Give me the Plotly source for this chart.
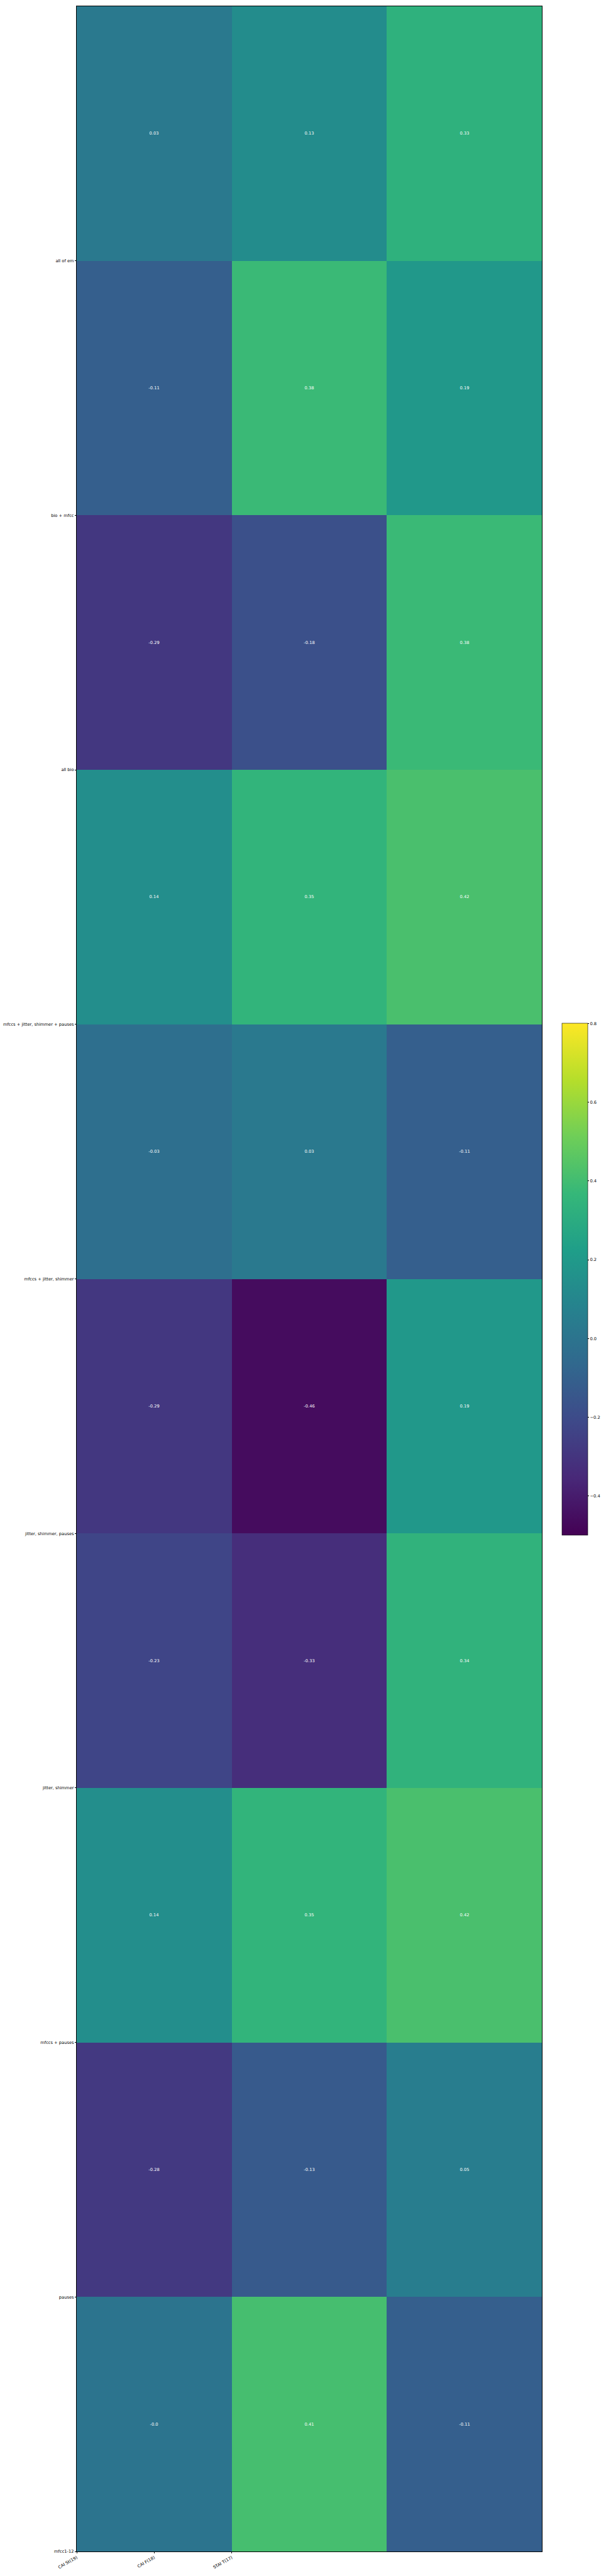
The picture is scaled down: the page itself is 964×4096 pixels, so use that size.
import plotly.graph_objects as go

# ---- data ----
col_labels = ["CAI St(19)", "CAI F(18)", "STAI T(17)"]
row_labels = [
    "all of em",
    "bio + mfcc",
    "all bio",
    "mfccs + jitter, shimmer + pauses",
    "mfccs + jitter, shimmer",
    "jitter, shimmer, pauses",
    "jitter, shimmer",
    "mfccs + pauses",
    "pauses",
    "mfcc1-12",
]
row0 = [0.03, 0.13, 0.33]
row1 = [-0.11, 0.38, 0.19]
row2 = [-0.29, -0.18, 0.38]
row3 = [0.14, 0.35, 0.42]
row4 = [-0.03, 0.03, -0.11]
row5 = [-0.29, -0.46, 0.19]
row6 = [-0.23, -0.33, 0.34]
row7 = [0.14, 0.35, 0.42]
row8 = [-0.28, -0.13, 0.05]
row9 = [-0.0, 0.41, -0.11]
values = [row0, row1, row2, row3, row4, row5, row6, row7, row8, row9]
cbar_ticks = [-0.4, -0.2, 0.0, 0.2, 0.4, 0.6, 0.8]
cbar_ticktext = ["\u22120.4", "\u22120.2", "0.0", "0.2", "0.4", "0.6", "0.8"]
zmin, zmax = -0.5, 0.8

S = 0.669
W, H = 964, 4096
left, right = 183 * S, 1288 * S
top, bottom = 15 * S, 6065 * S
plot_h = bottom - top
plot_w = right - left

texts = [[str(v) for v in r] for r in values]
FONT = "DejaVu Sans"
fs = 10 * S

cb_top = 2433 * S
cb_bot = 3649 * S
cb_left = 1336 * S
cb_w = 62 * S

fig = go.Figure(
    go.Heatmap(
        z=values,
        x=list(range(len(col_labels))),
        y=list(range(len(row_labels))),
        text=texts,
        texttemplate="%{text}",
        textfont=dict(family=FONT, size=fs, color="white"),
        colorscale="Viridis",
        zmin=zmin,
        zmax=zmax,
        xgap=0,
        ygap=0,
        colorbar=dict(
            x=(cb_left - left) / plot_w,
            xanchor="left",
            xpad=0,
            y=(bottom - cb_top) / plot_h,
            yanchor="top",
            ypad=0,
            lenmode="pixels",
            len=cb_bot - cb_top,
            thicknessmode="pixels",
            thickness=cb_w,
            outlinewidth=0.6,
            outlinecolor="black",
            tickvals=cbar_ticks,
            ticktext=cbar_ticktext,
            ticks="outside",
            ticklen=3.5 * S,
            tickwidth=0.6,
            tickcolor="black",
            tickfont=dict(family=FONT, size=fs, color="black"),
        ),
        hoverinfo="skip",
    )
)

fig.update_layout(
    width=W,
    height=H,
    margin=dict(l=left, r=W - right, t=top, b=H - bottom, pad=0, autoexpand=False),
    paper_bgcolor="white",
    plot_bgcolor="white",
    font=dict(family=FONT, size=fs, color="black"),
    showlegend=False,
)

fig.update_xaxes(
    range=[-0.5, 2.5],
    tickvals=[-0.5, 0, 0.5],
    ticktext=col_labels,
    tickangle=-30,
    ticks="outside",
    ticklen=3.5 * S,
    tickwidth=0.6,
    tickcolor="black",
    showline=True,
    linecolor="black",
    linewidth=0.6,
    mirror=True,
    showgrid=False,
    zeroline=False,
    automargin=False,
    tickfont=dict(family=FONT, size=fs, color="black"),
)
fig.update_yaxes(
    range=[9.5, -0.5],
    tickvals=[i + 0.5 for i in range(len(row_labels))],
    ticktext=row_labels,
    ticks="outside",
    ticklen=3.5 * S,
    tickwidth=0.6,
    tickcolor="black",
    showline=True,
    linecolor="black",
    linewidth=0.6,
    mirror=True,
    showgrid=False,
    zeroline=False,
    automargin=False,
    tickfont=dict(family=FONT, size=fs, color="black"),
)

fig.write_html(
    "out.html",
    config={"displayModeBar": False},
    post_script="document.body.style.margin='0px';document.body.style.padding='0px';",
)
